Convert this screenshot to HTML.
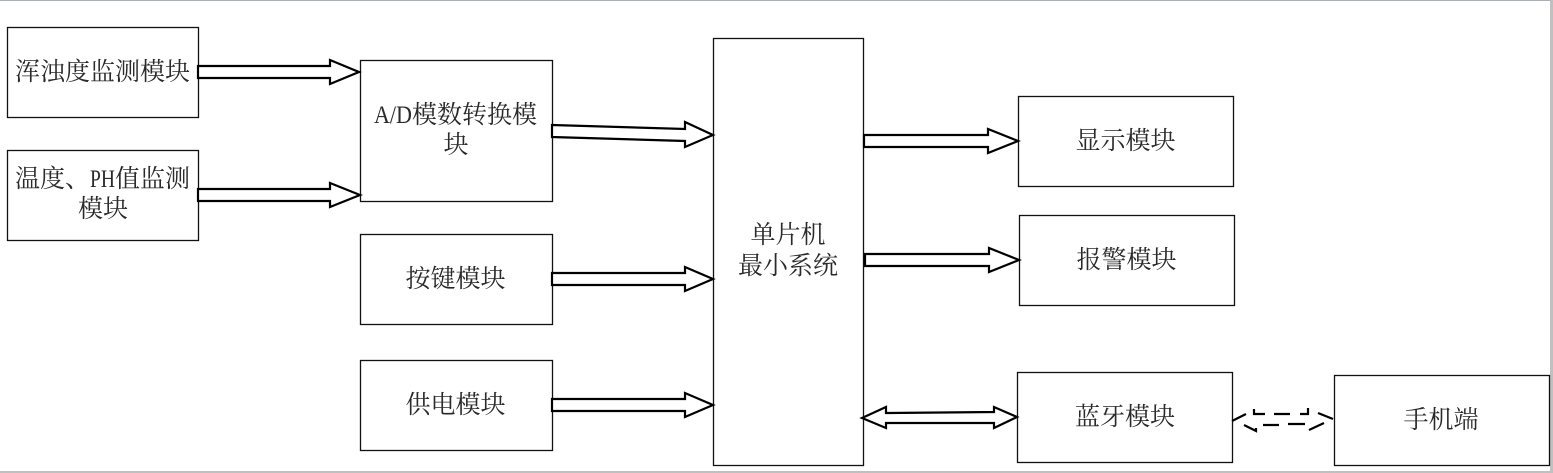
<!DOCTYPE html>
<html lang="zh">
<head>
<meta charset="utf-8">
<style>
html,body{margin:0;padding:0;background:#fff}
svg{display:block}
text{font-family:"Liberation Serif","Noto Serif CJK SC",serif;font-size:25px;fill:#2a2a2a;text-anchor:middle}
text.s{text-anchor:start}
.b{fill:#fff;stroke:#111;stroke-width:1.3}
.a{fill:#fff;stroke:#000;stroke-width:2.2}
.d{fill:none;stroke:#000;stroke-width:2.2}
</style>
</head>
<body>
<svg width="1553" height="473" viewBox="0 0 1553 473" xmlns="http://www.w3.org/2000/svg">
<rect width="1553" height="473" fill="#fff"/>
<rect x="0" y="0" width="1553" height="1" fill="#a8b0b8"/>
<rect x="1550" y="0" width="3" height="473" fill="#c0c0c0"/>
<rect x="0" y="471" width="1553" height="2" fill="#c0c0c0"/>

<rect class="b" x="7.5" y="27.5" width="191" height="90"/>
<rect class="b" x="7.5" y="150.5" width="191" height="90"/>
<rect class="b" x="360.5" y="60.5" width="192" height="141"/>
<rect class="b" x="360.5" y="234.5" width="192" height="90"/>
<rect class="b" x="360.5" y="360.5" width="192" height="90"/>
<rect class="b" x="713.5" y="38.5" width="150" height="427"/>
<rect class="b" x="1018.5" y="96.5" width="215" height="90"/>
<rect class="b" x="1019.5" y="215.5" width="215" height="90"/>
<rect class="b" x="1017.5" y="372.5" width="215" height="90"/>
<rect class="b" x="1334.5" y="375.5" width="215" height="90"/>

<polygon class="a" points="198,66 330,66 330,60 359,72 330,84 330,78 198,78"/>
<polygon class="a" points="198,189 330,189 330,183 360,195 330,207 330,201 198,201"/>
<polygon class="a" points="552,125 685,129 685,122 713,135 685,147 685,141 552,137"/>
<polygon class="a" points="552,273 685,273 685,267 713,279 685,291 685,285 552,285"/>
<polygon class="a" points="552,399 685,399 685,393 713,405 685,417 685,411 552,411"/>
<polygon class="a" points="864,135 988,135 988,129 1018,141 988,153 988,147 864,147"/>
<polygon class="a" points="865,254 989,254 989,248 1019,260 989,272 989,266 865,266"/>
<polygon class="a" points="862,418 886,407 886,413 994,412 994,407 1017,417 994,428 994,423 886,423 886,428"/>

<path class="d" d="M1232,421L1246,414M1254,409V414H1265M1274,414H1290M1300,414H1308V408M1318,413L1333,419M1324,423L1309,430M1288,424H1305M1263,425H1279M1244,425L1256,431V428"/>

<text x="102.5" y="80">浑浊度监测模块</text>
<text class="s" x="15" y="187">温度、</text>
<text class="s" x="90" y="187" textLength="25" lengthAdjust="spacingAndGlyphs">PH</text>
<text class="s" x="115" y="187">值监测</text>
<text x="103" y="217">模块</text>
<text class="s" x="374" y="123" textLength="38" lengthAdjust="spacingAndGlyphs">A/D</text>
<text class="s" x="412" y="123">模数转换模</text>
<text x="456" y="153">块</text>
<text x="455.5" y="287">按键模块</text>
<text x="455.5" y="413">供电模块</text>
<text x="788" y="243">单片机</text>
<text x="788" y="274">最小系统</text>
<text x="1125.5" y="149">显示模块</text>
<text x="1126.5" y="268">报警模块</text>
<text x="1125" y="425">蓝牙模块</text>
<text x="1441" y="428">手机端</text>
</svg>
</body>
</html>
